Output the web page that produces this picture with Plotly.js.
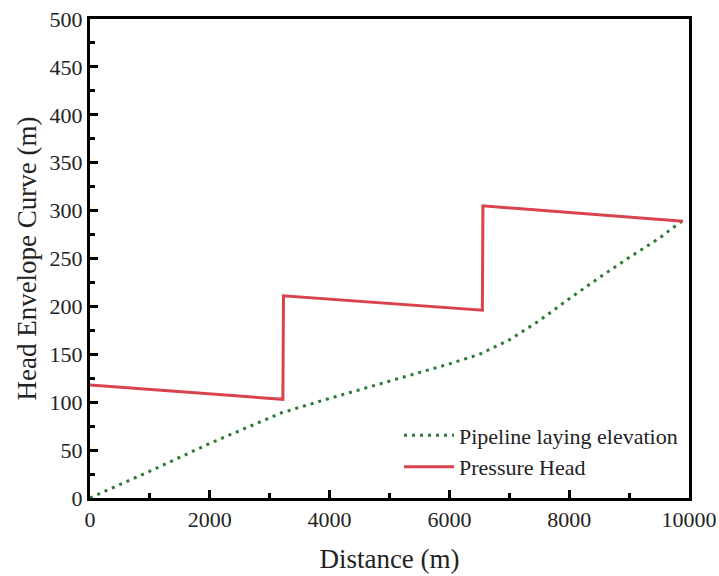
<!DOCTYPE html>
<html><head><meta charset="utf-8">
<script src="https://cdn.plot.ly/plotly-3.0.1.min.js"></script>
<style>body{margin:0;background:#fff}#chart{width:719px;height:576px}
.xtick text, .ytick text {font-family: 'Liberation Serif', 'Times New Roman', serif !important;}</style>
</head><body><div id="chart"></div>
<script>
const elevX = [0, 1000, 2000, 3200, 4000, 5000, 6000, 6500, 7000, 7500, 8000, 8500, 9000, 9500, 9900];
const elevY = [0, 28, 57, 89, 104, 122, 140, 150, 165, 185, 208, 230, 251, 271, 290];
const headX = [0, 3220, 3230, 6550, 6560, 9900];
const headY = [118, 103, 211, 196, 305, 289];

const serif = "Liberation Serif";
const traces = [
  {x: elevX, y: elevY, mode: 'lines', name: 'Pipeline laying elevation',
   line: {color: '#2b7a33', width: 3, dash: '3px,5px'}},
  {x: headX, y: headY, mode: 'lines', name: 'Pressure Head',
   line: {color: '#d9434b', width: 3}}
];
function axis(extra) {
  return Object.assign({
    showline: true, linecolor: '#000', linewidth: 3, mirror: true,
    ticks: 'inside', ticklen: 8, tickwidth: 3, tickcolor: '#000',
    showgrid: false, zeroline: false, tickformat: 'd',
    tickfont: {family: serif, size: 22, color: '#222'}
  }, extra);
}
const layout = {
  width: 719, height: 576,
  margin: {l: 90, r: 30, t: 19, b: 78},
  paper_bgcolor: '#fff', plot_bgcolor: '#fff',
  font: {family: serif, size: 22, color: '#222'},
  showlegend: true,
  legend: {x: 0.99, y: 0.02, xanchor: 'right', yanchor: 'bottom',
    bgcolor: 'rgba(0,0,0,0)', font: {family: serif, size: 22, color: '#222'},
    tracegroupgap: 0, itemwidth: 50},
  xaxis: axis({
    range: [0, 10000], tickmode: 'linear', tick0: 0, dtick: 2000,
    minor: {ticks: 'inside', ticklen: 5, tickwidth: 3, tickcolor: '#000', dtick: 1000},
    title: {text: 'Distance (m)', font: {family: serif, size: 27, color: '#222'}, standoff: 18}
  }),
  yaxis: axis({
    range: [0, 500], tickmode: 'linear', tick0: 0, dtick: 50,
    minor: {ticks: 'inside', ticklen: 5, tickwidth: 3, tickcolor: '#000', dtick: 25},
    title: {text: 'Head Envelope Curve (m)', font: {family: serif, size: 27, color: '#222'}, standoff: 6}
  })
};
Plotly.newPlot('chart', traces, layout, {displayModeBar: false, staticPlot: true});
</script></body></html>
